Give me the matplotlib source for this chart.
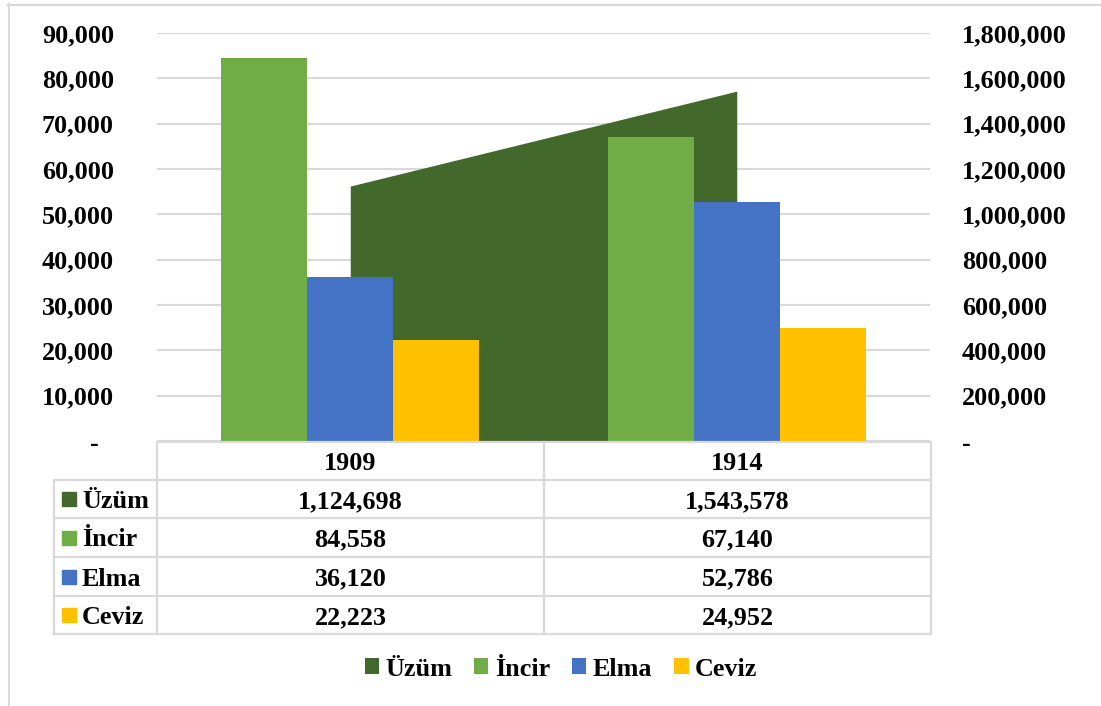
import numpy as np
import matplotlib.pyplot as plt
from matplotlib.patches import Patch
from matplotlib.lines import Line2D
from matplotlib.transforms import blended_transform_factory, offset_copy

# data
years = ['1909', '1914']
series = ['Üzüm', 'İncir', 'Elma', 'Ceviz']
uzum = [1124698, 1543578]
incir = [84558, 67140]
elma = [36120, 52786]
ceviz = [22223, 24952]
colors = {'Üzüm': '#43682B', 'İncir': '#70AD47', 'Elma': '#4472C4', 'Ceviz': '#FFC000'}

left_ticks = np.arange(0, 90001, 10000)
right_ticks = np.arange(0, 1800001, 200000)

W, H = 1101, 706
plt.rcParams['font.family'] = ['Liberation Serif', 'DejaVu Serif']
plt.rcParams['font.weight'] = 'bold'
FS = 18.8
GRID = '#D9D9D9'
DY = 2.5  # text nudge down, px


def fx(px):
    return px / W


def fy(py):
    return 1 - py / H


fig = plt.figure(figsize=(W / 100, H / 100), dpi=100)

# plot area in pixels: x 157..930, y 33..441
x0, x1, y0, y1 = 157, 930, 33, 441
ax = fig.add_axes([fx(x0), fy(y1), fx(x1) - fx(x0), (y1 - y0) / H])
ax2 = ax.twinx()
ax.set_zorder(ax2.get_zorder() + 1)
ax.patch.set_visible(False)

# area (secondary axis), behind bars
x = np.arange(len(years))
ax2.fill_between(x, 0, uzum, color=colors['Üzüm'], lw=0, zorder=2)
ax2.set_ylim(0, 1800000)
ax2.set_yticks(right_ticks)
ax2.set_yticklabels([''] + [f'{v:,}' for v in right_ticks[1:]], fontsize=FS, fontweight='bold')
ax2.tick_params(axis='y', length=0, pad=23)
for lab in ax2.get_yticklabels():
    lab.set_horizontalalignment('left')
ax2.grid(axis='y', color=GRID, lw=1.5, zorder=0)
ax2.set_axisbelow(True)

# bars (primary axis)
bw = 0.2226
for off, vals, name in [(-bw, incir, 'İncir'), (0, elma, 'Elma'), (bw, ceviz, 'Ceviz')]:
    ax.bar(x + off, vals, width=bw, color=colors[name], zorder=3)

ax.set_xlim(-0.5, 1.5)
ax.set_ylim(0, 90000)
ax.set_yticks(left_ticks)
ax.set_yticklabels([''] + [f'{v:,}' for v in left_ticks[1:]], fontsize=FS, fontweight='bold')
ax.tick_params(axis='y', length=0, pad=31)
ax.set_xticks([])

# zero labels shown as "-"
tr = offset_copy(blended_transform_factory(fig.transFigure, ax.transData), fig=fig, y=-3, units='dots')
ax.text(fx(99), 0, '-', transform=tr, ha='right', va='center', fontsize=FS, fontweight='bold')
ax.text(fx(962), 0, '-', transform=tr, ha='left', va='center', fontsize=FS, fontweight='bold')

for a in (ax, ax2):
    for s in a.spines.values():
        s.set_visible(False)

# data table
row_y = [442, 480, 518, 557, 596, 634]
col_x = [54, 157, 544, 931]


def hline(xa, xb, py):
    fig.add_artist(Line2D([fx(xa), fx(xb)], [fy(py), fy(py)], color=GRID, lw=1.6))


def vline(px, ya, yb):
    fig.add_artist(Line2D([fx(px), fx(px)], [fy(ya), fy(yb)], color=GRID, lw=1.6))


hline(col_x[1], col_x[3], row_y[0])
for py in row_y[1:]:
    hline(col_x[0], col_x[3], py)
vline(col_x[0], row_y[1], row_y[-1])
for px in col_x[1:]:
    vline(px, row_y[0], row_y[-1])

for j, yr in enumerate(years):
    cx = (col_x[j + 1] + col_x[j + 2]) / 2
    fig.text(fx(cx), fy((row_y[0] + row_y[1]) / 2 + DY), yr, ha='center', va='center',
             fontsize=FS, fontweight='bold')

table_vals = [uzum, incir, elma, ceviz]
for i, name in enumerate(series):
    cy = (row_y[i + 1] + row_y[i + 2]) / 2
    fig.add_artist(plt.Rectangle((fx(62), fy(cy + 7)), 14 / W, 14 / H,
                                 color=colors[name], transform=fig.transFigure))
    fig.text(fx(82), fy(cy + DY), name, ha='left', va='center', fontsize=FS, fontweight='bold')
    for j in range(len(years)):
        cx = (col_x[j + 1] + col_x[j + 2]) / 2
        fig.text(fx(cx), fy(cy + DY), f'{table_vals[i][j]:,}', ha='center', va='center',
                 fontsize=FS, fontweight='bold')

# legend
handles = [Patch(facecolor=colors[n], edgecolor='none', label=n) for n in series]
fig.legend(handles=handles, loc='center', bbox_to_anchor=(fx(561), fy(669)), ncol=4,
           frameon=False, prop={'size': FS, 'weight': 'bold'},
           handlelength=0.54, handleheight=0.54, handletextpad=0.25, columnspacing=0.85)

# chart border (top and left visible)
fig.add_artist(Line2D([fx(8), 1], [fy(4.5), fy(4.5)], color=GRID, lw=1.5))
fig.add_artist(Line2D([fx(8.5), fx(8.5)], [fy(4), 0], color=GRID, lw=1.5))

fig.savefig('out.png', dpi=100)
